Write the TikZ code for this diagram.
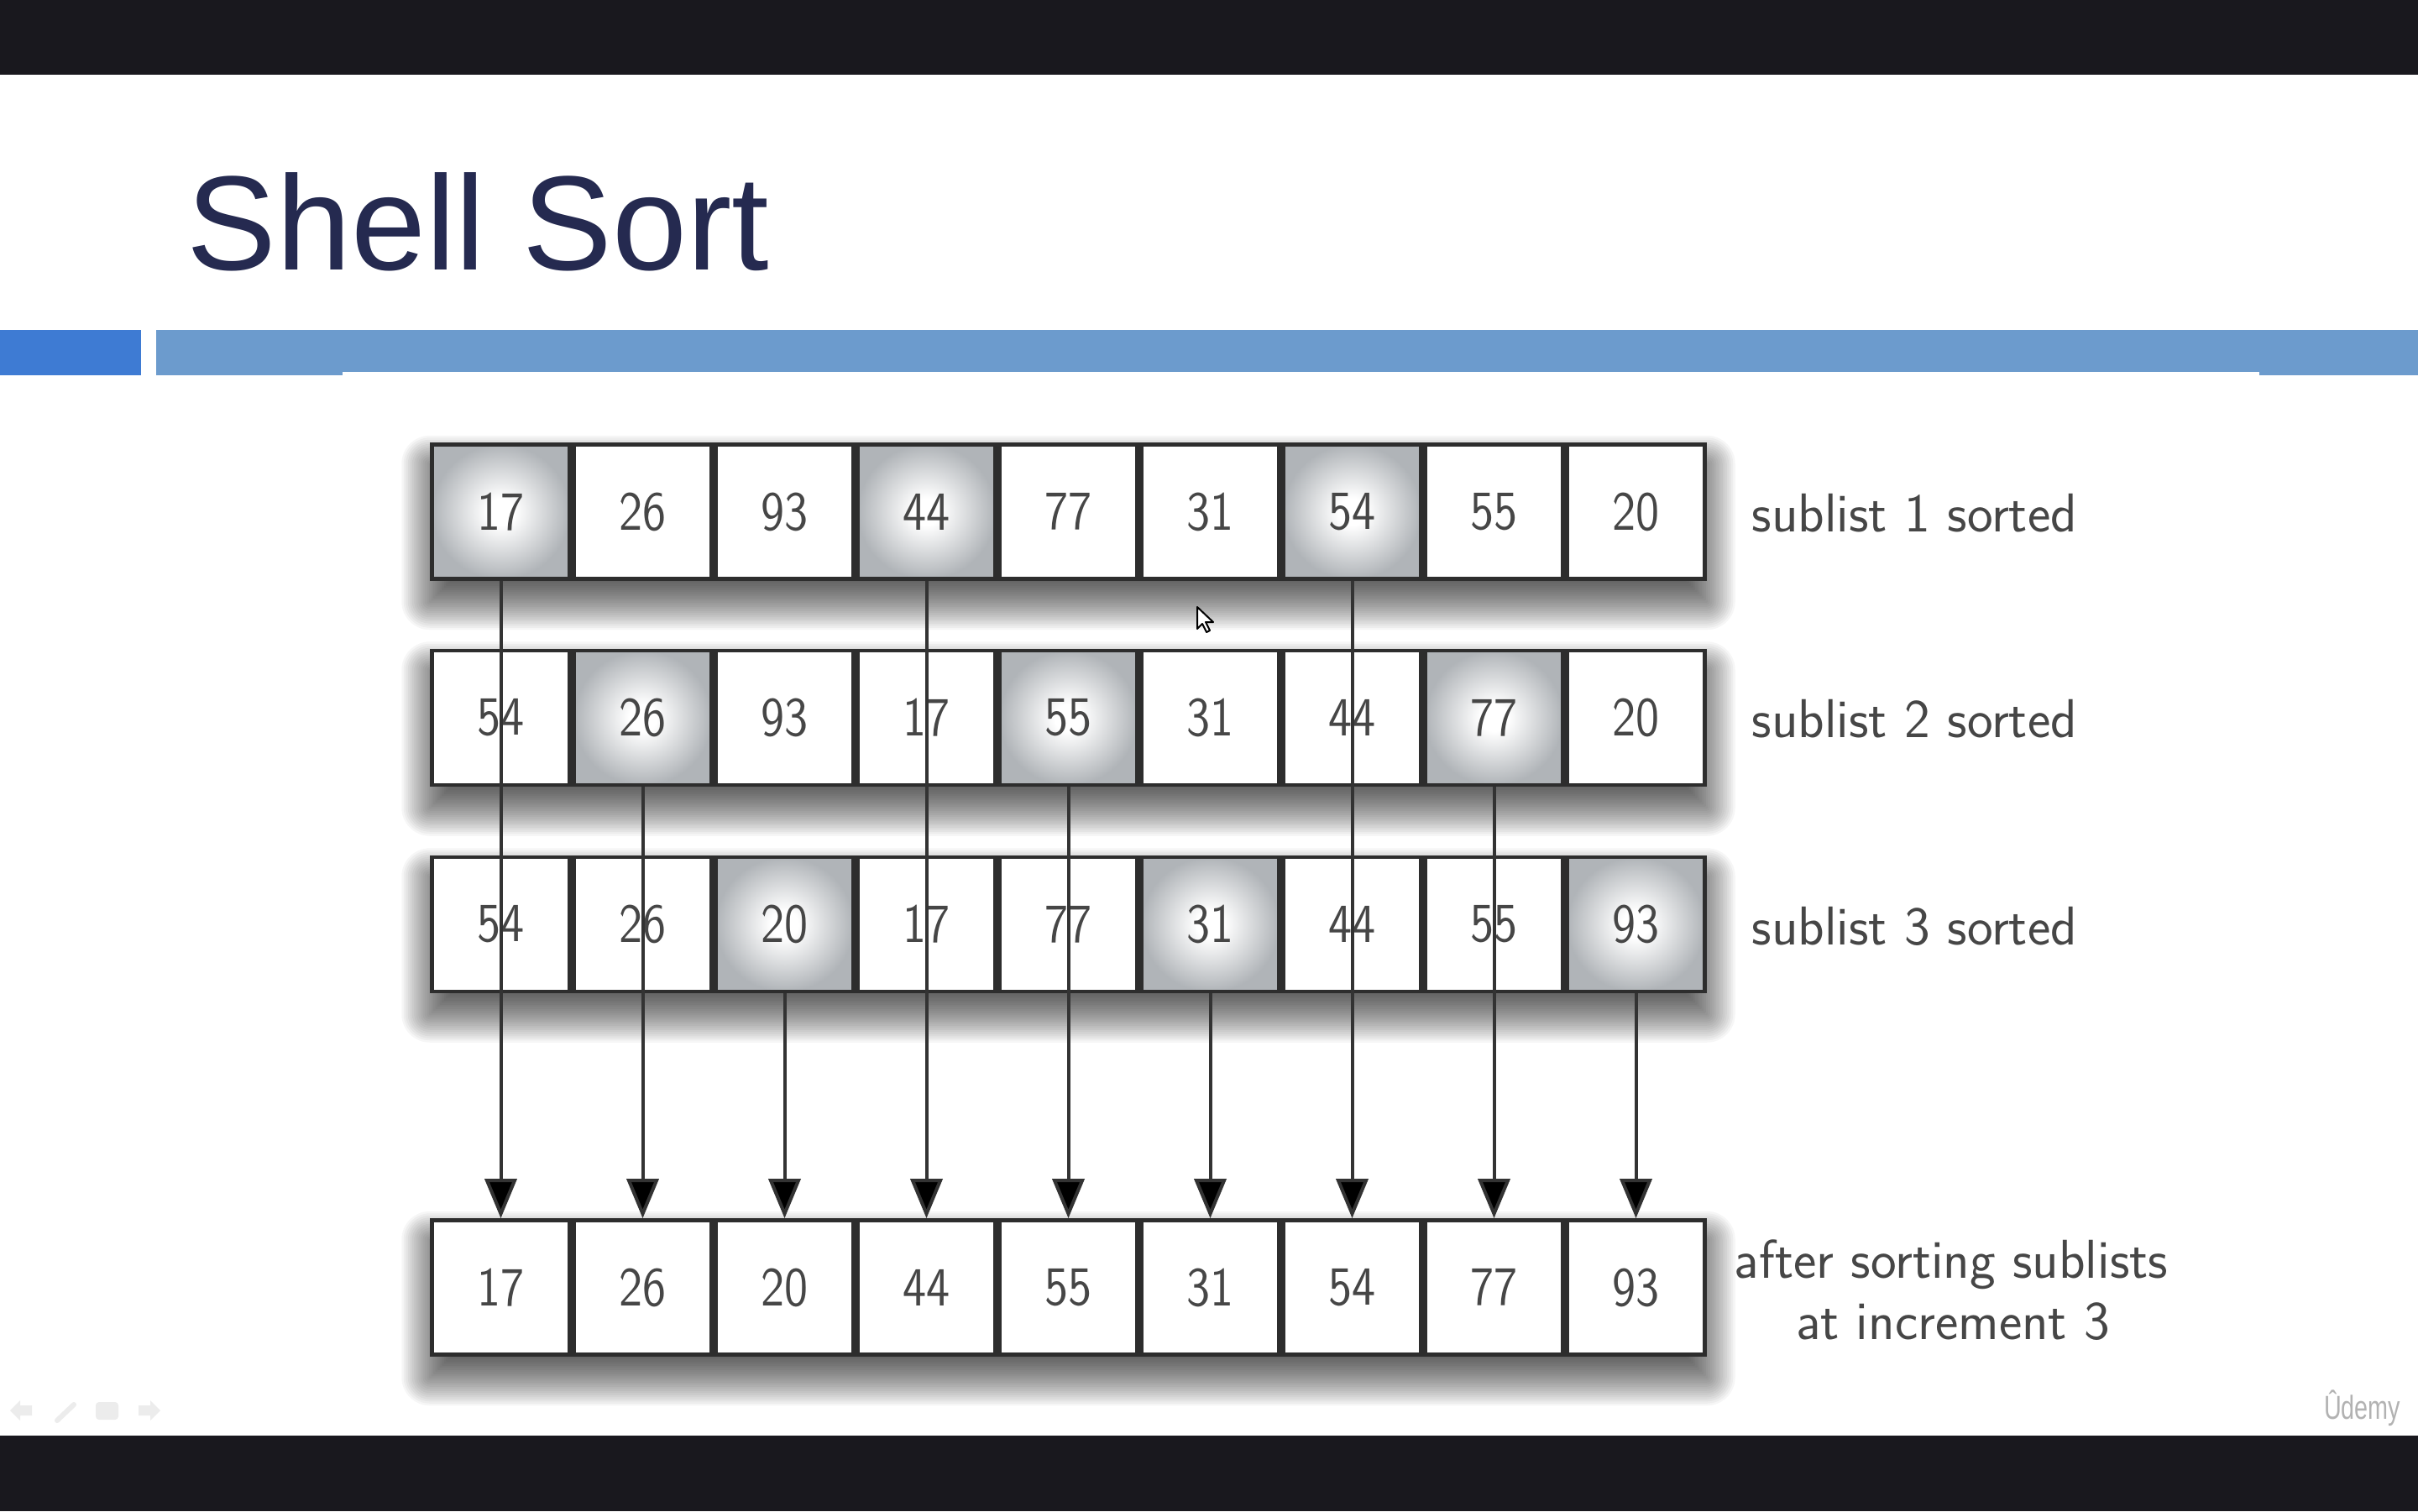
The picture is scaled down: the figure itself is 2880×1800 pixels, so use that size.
\documentclass[tikz,border=0pt]{standalone}
\usepackage{fontspec}
\usepackage{graphicx}
\newfontfamily\titlefont{Liberation Sans}
\usetikzlibrary{arrows.meta}
\definecolor{barblack}{RGB}{25,24,30}
\definecolor{titleblue}{RGB}{37,42,80}
\definecolor{barleft}{RGB}{62,123,211}
\definecolor{barright}{RGB}{108,155,205}
\definecolor{cellline}{RGB}{45,45,45}
\definecolor{celltext}{RGB}{70,70,70}
\definecolor{hlgray}{RGB}{176,180,184}
\definecolor{navgray}{RGB}{236,236,236}
\pgfdeclareradialshading{cellglow}{\pgfpoint{0bp}{0bp}}{color(0bp)=(white); color(5bp)=(white); color(25bp)=(hlgray); color(50bp)=(hlgray)}
\newcommand\cellfont{\sffamily\fontsize{14.3}{17}\selectfont}
\newcommand\labelfont{\sffamily\fontsize{16.3}{19}\selectfont}
\newcommand\tallnum[1]{\scalebox{1}[1.15]{#1}}
\begin{document}
\begin{tikzpicture}[x=0.25pt,y=-0.25pt,
  cellbox/.style={draw=cellline, line width=1.2pt, fill=white, minimum width=41pt, minimum height=40pt, inner sep=0pt, font=\cellfont, text=celltext},
  hl/.style={cellbox, shade, shading=cellglow},
  shadowlayer/.style={fill=black, opacity=0.037},
  sublabel/.style={font=\labelfont, text=celltext, inner sep=0pt, anchor=base west},
  centrelabel/.style={font=\labelfont, text=celltext, inner sep=0pt, anchor=base},
  moveline/.style={draw=black!80, line width=1pt, -{Triangle[length=11.75pt,width=9.5pt,fill=black]}}
]
\useasboundingbox (0,0) rectangle (2880,1800);
\fill[white] (0,0) rectangle (2880,1800);
% screen bars
\fill[barblack] (0,0) rectangle (2880,89);
\fill[barblack] (0,1710) rectangle (2880,1800);
% title and rule
\node[anchor=base west, inner sep=0pt, font=\titlefont\fontsize{40}{48}\selectfont, text=titleblue] (title) at (222,321) {Shell Sort};
\fill[barleft] (0,393) rectangle (168,447);
\fill[barright] (186,393) rectangle (2880,447);
\fill[white] (408,443) rectangle (2691,447);
% soft row shadows (stacked translucent layers)
\foreach \y in {609.5,855,1101,1533.5}{
  \foreach \k in {1,...,28}{
    \pgfmathsetmacro\e{-35+70*(\k-0.5)/28}
    \pgfmathsetmacro\rc{0.25*max(\e,1)}
    \fill[shadowlayer, rounded corners=\rc pt] (512-\e,\y-57-\e) rectangle (2033+\e,\y+107+\e);
  }
}
% rows of cells
\foreach \c/\v/\s in {0/17/hl,1/26/cellbox,2/93/cellbox,3/44/hl,4/77/cellbox,5/31/cellbox,6/54/hl,7/55/cellbox,8/20/cellbox}
  \node[\s] (r1-\c) at (596.5+169*\c,609.5) {\tallnum{\v}};
\foreach \c/\v/\s in {0/54/cellbox,1/26/hl,2/93/cellbox,3/17/cellbox,4/55/hl,5/31/cellbox,6/44/cellbox,7/77/hl,8/20/cellbox}
  \node[\s] (r2-\c) at (596.5+169*\c,855) {\tallnum{\v}};
\foreach \c/\v/\s in {0/54/cellbox,1/26/cellbox,2/20/hl,3/17/cellbox,4/77/cellbox,5/31/hl,6/44/cellbox,7/55/cellbox,8/93/hl}
  \node[\s] (r3-\c) at (596.5+169*\c,1101) {\tallnum{\v}};
\foreach \c/\v in {0/17,1/26,2/20,3/44,4/55,5/31,6/54,7/77,8/93}
  \node[cellbox] (r4-\c) at (596.5+169*\c,1533.5) {\tallnum{\v}};
% labels
\node[sublabel] (l1) at (2086,633) {sublist 1 sorted};
\node[sublabel] (l2) at (2086,878) {sublist 2 sorted};
\node[sublabel] (l3) at (2086,1125) {sublist 3 sorted};
\node[centrelabel] (l4a) at (2324,1522) {after sorting sublists};
\node[centrelabel] (l4b) at (2326,1595) {at increment 3};
% connectors
\foreach \a/\c in {1/0,1/3,1/6,2/1,2/4,2/7,3/2,3/5,3/8}
  \draw[moveline] (r\a-\c.south) -- (r4-\c.north);
% mouse pointer
\draw[black, fill=white, line width=0.5pt, line join=round] (1426,723) -- ++(0,26) -- ++(6,-6) -- ++(5,10) -- ++(4,-2) -- ++(-5,-10) -- ++(9,0) -- cycle;
% faint slide navigation icons
\fill[navgray] (12,1680) -- (24,1668) -- (24,1674) -- (38,1674) -- (38,1686) -- (24,1686) -- (24,1692) -- cycle;
\draw[navgray, line width=1.5pt, line cap=round] (68,1692) -- (88,1673);
\fill[navgray, rounded corners=1pt] (114,1670) rectangle (141,1691);
\fill[navgray] (191,1680) -- (179,1668) -- (179,1674) -- (165,1674) -- (165,1686) -- (179,1686) -- (179,1692) -- cycle;
% watermark
\node[anchor=base east, inner sep=0pt, font=\titlefont\fontsize{9}{10}\selectfont, text=black!30] (udemy) at (2860,1690) {\scalebox{0.8}[1.1]{Ûdemy}};
\end{tikzpicture}
\end{document}
